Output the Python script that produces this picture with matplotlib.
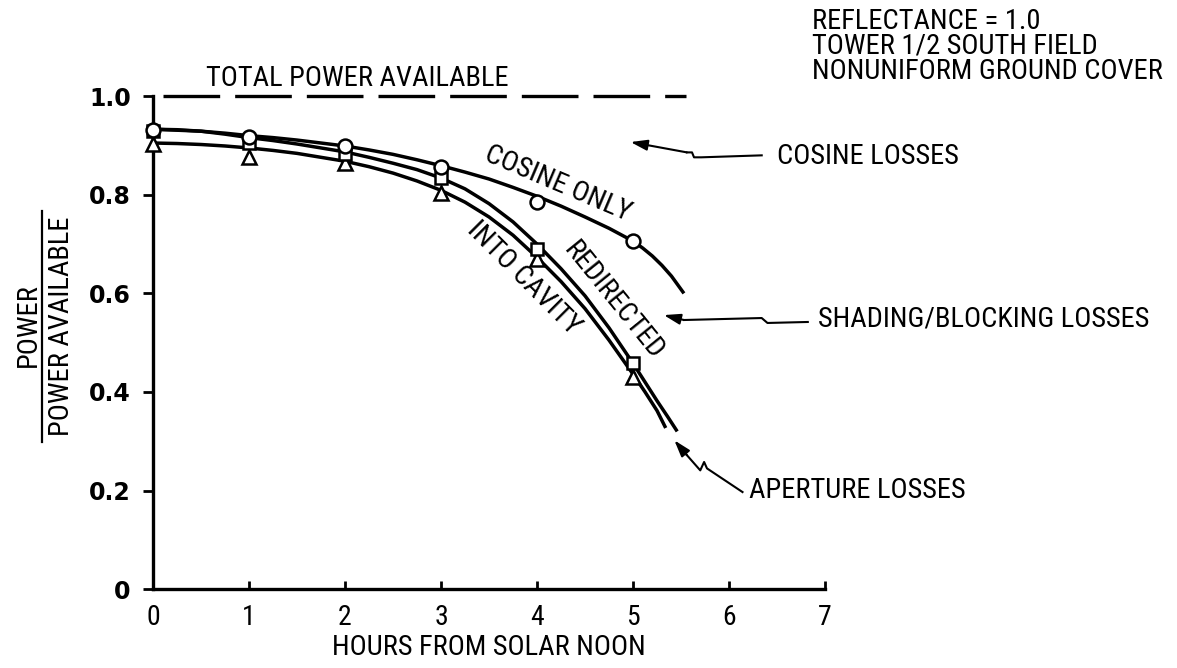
import numpy as np
import matplotlib
matplotlib.use('Agg')
import matplotlib.pyplot as plt
from matplotlib import font_manager
from matplotlib.lines import Line2D

# pick a narrow sans if the box has one
_names = set(f.name for f in font_manager.fontManager.ttflist)
NARROW = 'DejaVu Sans'
for cand in ['Roboto Condensed', 'Liberation Sans Narrow', 'DejaVu Sans Condensed', 'Liberation Sans']:
    if cand in _names:
        NARROW = cand
        break

hours = [0, 1, 2, 3, 4, 5]
cosine_only = [0.931, 0.917, 0.898, 0.857, 0.786, 0.707]
redirected = [0.93, 0.906, 0.882, 0.834, 0.69, 0.458]
into_cavity = [0.903, 0.877, 0.864, 0.803, 0.670, 0.430]

# faired curves through the points
cos_x = [0, 0.25, 0.5, 0.75, 1, 1.25, 1.5, 1.75, 2, 2.25, 2.5, 2.75, 3, 3.25, 3.5, 3.75,
         4, 4.25, 4.5, 4.75, 5, 5.1, 5.2, 5.3, 5.4, 5.53]
cos_y = [0.933, 0.931, 0.929, 0.925, 0.920, 0.916, 0.911, 0.905, 0.899, 0.891, 0.882, 0.871,
         0.859, 0.846, 0.832, 0.815, 0.797, 0.777, 0.755, 0.732, 0.706, 0.692, 0.676, 0.657,
         0.635, 0.600]
red_x = [0, 0.25, 0.5, 0.75, 1, 1.25, 1.5, 1.75, 2, 2.25, 2.5, 2.75, 3, 3.25, 3.5, 3.75,
         4, 4.25, 4.5, 4.75, 5, 5.125, 5.25, 5.36, 5.46]
red_y = [0.933, 0.932, 0.929, 0.923, 0.916, 0.910, 0.903, 0.895, 0.887, 0.876, 0.864, 0.851,
         0.834, 0.812, 0.782, 0.745, 0.700, 0.650, 0.595, 0.530, 0.458, 0.420, 0.382, 0.350,
         0.320]
cav_x = [0, 0.25, 0.5, 0.75, 1, 1.25, 1.5, 1.75, 2, 2.25, 2.5, 2.75, 3, 3.25, 3.5, 3.75,
         4, 4.25, 4.5, 4.75, 5, 5.125, 5.25, 5.34]
cav_y = [0.905, 0.904, 0.902, 0.899, 0.895, 0.890, 0.884, 0.876, 0.868, 0.857, 0.844, 0.828,
         0.809, 0.785, 0.755, 0.718, 0.673, 0.624, 0.569, 0.505, 0.436, 0.400, 0.362, 0.327]

total_available = 1.0
xticks = [0, 1, 2, 3, 4, 5, 6, 7]
yticks = [0, 0.2, 0.4, 0.6, 0.8, 1.0]
ytick_labels = ['0', '0.2', '0.4', '0.6', '0.8', '1.0']

fig = plt.figure(figsize=(11.77, 6.68), dpi=100)
ax = fig.add_axes([0.130, 0.118, 0.571, 0.738])

lw = 2.5
for xs, ys in [(cos_x, cos_y), (red_x, red_y), (cav_x, cav_y)]:
    ax.plot(xs, ys, color='k', lw=lw, solid_capstyle='butt', solid_joinstyle='round')

ms = 10
ax.plot(hours, into_cavity, '^', ms=ms, mfc='white', mec='k', mew=1.8, zorder=5, clip_on=False)
ax.plot(hours, redirected, 's', ms=ms - 1.5, mfc='white', mec='k', mew=1.8, zorder=6, clip_on=False)
ax.plot(hours, cosine_only, 'o', ms=ms, mfc='white', mec='k', mew=1.8, zorder=7, clip_on=False)

# total power line
ax.plot([0.1, 5.55], [total_available, total_available], color='k', lw=2.4,
        dashes=(17, 4.5), clip_on=False)

ax.set_xlim(0, 7)
ax.set_ylim(0, 1.0)
for s in ['top', 'right']:
    ax.spines[s].set_visible(False)
for s in ['left', 'bottom']:
    ax.spines[s].set_linewidth(2.4)
ax.set_xticks(xticks)
ax.set_yticks(yticks)
ax.set_yticklabels(ytick_labels)
ax.tick_params(axis='x', direction='in', length=6, width=2, labelsize=20, pad=11)
ax.tick_params(axis='y', direction='out', length=7, width=2, labelsize=17, pad=9)
for lab in ax.get_xticklabels():
    lab.set_family(NARROW)
for lab in ax.get_yticklabels():
    lab.set_family('DejaVu Sans')
    lab.set_weight('bold')

tf = dict(family=NARROW, fontsize=20.5, color='k')
ax.set_xlabel('HOURS FROM SOLAR NOON', labelpad=2, **tf)

# y label as a fraction
fig.text(0.024, 0.514, 'POWER', rotation=90, ha='center', va='center', **tf)
fig.text(0.052, 0.512, 'POWER AVAILABLE', rotation=90, ha='center', va='center', **tf)
fig.add_artist(Line2D([0.0355, 0.0355], [0.338, 0.684], color='k', lw=1.6,
                      transform=fig.transFigure))

ax.text(2.13, 1.036, 'TOTAL POWER AVAILABLE', ha='center', va='center', **tf)
fig.text(0.690, 0.988, 'REFLECTANCE = 1.0\nTOWER 1/2 SOUTH FIELD\nNONUNIFORM GROUND COVER',
         ha='left', va='top', linespacing=0.9, **tf)

ax.text(4.22, 0.822, 'COSINE ONLY', rotation=-23, ha='center', va='center', **tf)
ax.text(4.80, 0.585, 'REDIRECTED', rotation=-51, ha='center', va='center', **tf)
ax.text(3.86, 0.630, 'INTO CAVITY', rotation=-45, ha='center', va='center', **tf)

ax.text(6.50, 0.878, 'COSINE LOSSES', ha='left', va='center', clip_on=False, **tf)
ax.text(6.93, 0.549, 'SHADING/BLOCKING LOSSES', ha='left', va='center', clip_on=False, **tf)
ax.text(6.21, 0.200, 'APERTURE LOSSES', ha='left', va='center', clip_on=False, **tf)


def squiggle(pts, tip):
    xs = [p[0] for p in pts]
    ys = [p[1] for p in pts]
    ax.plot(xs, ys, color='k', lw=1.5, clip_on=False)
    ax.annotate('', xy=tip, xytext=pts[-1],
                arrowprops=dict(arrowstyle='-|>,head_length=1.0,head_width=0.32',
                                color='k', lw=1.5, shrinkA=0, shrinkB=0),
                annotation_clip=False)


squiggle([(6.34, 0.880), (5.71, 0.876), (5.635, 0.876), (5.614, 0.886), (5.561, 0.886)],
         (4.974, 0.907))
squiggle([(6.82, 0.542), (6.40, 0.540), (6.34, 0.550), (5.53, 0.546)], (5.32, 0.556))
squiggle([(6.14, 0.197), (5.77, 0.245), (5.74, 0.258), (5.70, 0.241), (5.56, 0.272)],
         (5.43, 0.302))

fig.savefig('out.png', dpi=100)
